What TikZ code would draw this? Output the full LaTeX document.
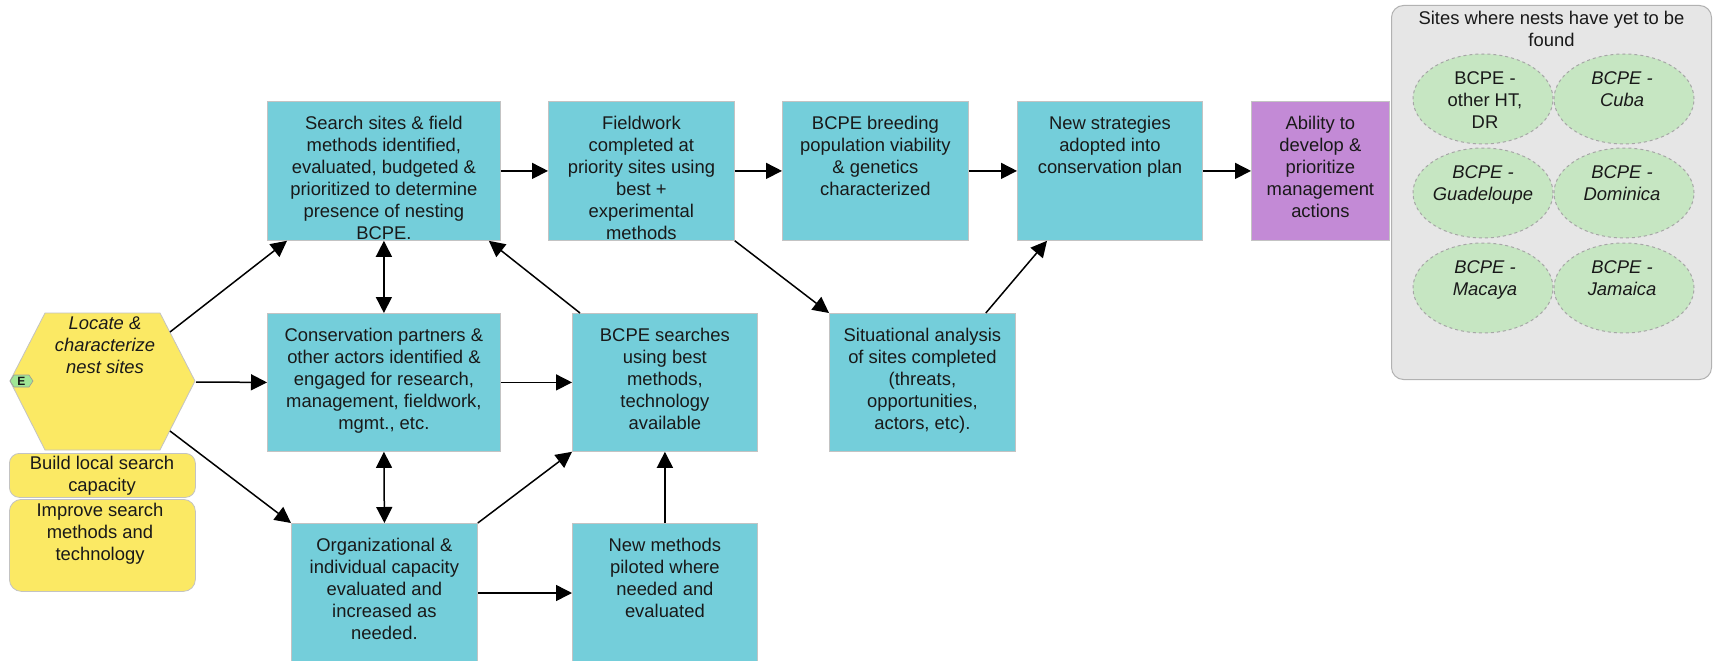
\documentclass[tikz,border=0pt]{standalone}
\usepackage{fontspec}
\setmainfont{Liberation Sans}
\usetikzlibrary{arrows.meta,shapes.geometric}
\definecolor{boxblue}{RGB}{116,206,218}
\definecolor{boxpurple}{RGB}{195,138,214}
\definecolor{hexyellow}{RGB}{251,233,100}
\definecolor{ellgreen}{RGB}{198,230,194}
\definecolor{contgrey}{RGB}{230,230,230}
\definecolor{edgegrey}{RGB}{195,195,195}
\definecolor{markgreen}{RGB}{160,230,150}
\definecolor{inkc}{RGB}{25,25,25}
\newcommand\fs{\fontsize{18.4}{22}\selectfont}
\begin{document}
\begin{tikzpicture}[x=1pt,y=-1pt,
  box/.style={draw=edgegrey, line width=0.8pt, fill=boxblue, anchor=north west, inner sep=0pt},
  pbox/.style={box, fill=boxpurple},
  ybox/.style={draw=edgegrey, line width=0.8pt, fill=hexyellow, anchor=north west, inner sep=0pt},
  txt/.style={font=\fs, align=center, inner sep=0pt, anchor=north, text=inkc},
  itxt/.style={txt, font=\fs\itshape},
  ell/.style={ellipse, draw=black!35, dashed, line width=1pt, fill=ellgreen, minimum width=140pt, minimum height=90pt, inner sep=0pt},
  arr/.style={line width=1.5pt, -{Triangle[length=16pt,width=16pt]}},
  darr/.style={line width=1.5pt, {Triangle[length=16pt,width=16pt]}-{Triangle[length=16pt,width=16pt]}}]
\useasboundingbox (0,0) rectangle (1713,661);
\fill[white] (0,0) rectangle (1713,661);

% grey container
\node[draw=black!30, line width=1pt, fill=contgrey, rounded corners=12pt, anchor=north west, minimum width=320pt, minimum height=374pt, inner sep=0pt] (sites) at (1391,5) {};
\node[txt] (sites-t) at ([yshift=-3.6pt]sites.north) {\strut Sites where nests have yet to be\\found};

% ellipses
\node[ell] (e1) at (1483,99) {};
\node[ell] (e2) at (1624,99) {};
\node[ell] (e3) at (1483,193) {};
\node[ell] (e4) at (1624,193) {};
\node[ell] (e5) at (1483,288) {};
\node[ell] (e6) at (1624,288) {};
\node[txt] (e1-t) at ([xshift=2pt,yshift=30.4pt]e1.center) {\strut BCPE -\\other HT,\\DR};
\node[itxt] (e2-t) at ([xshift=-2pt,yshift=30.4pt]e2.center) {\strut BCPE -\\Cuba};
\node[itxt] (e3-t) at ([yshift=30.4pt]e3.center) {\strut BCPE -\\Guadeloupe};
\node[itxt] (e4-t) at ([xshift=-2pt,yshift=30.4pt]e4.center) {\strut BCPE -\\Dominica};
\node[itxt] (e5-t) at ([xshift=2pt,yshift=30.4pt]e5.center) {\strut BCPE -\\Macaya};
\node[itxt] (e6-t) at ([xshift=-2pt,yshift=30.4pt]e6.center) {\strut BCPE -\\Jamaica};

% hexagon
\draw[draw=edgegrey, line width=0.8pt, fill=hexyellow] (10,381) -- (45,313) -- (160,313) -- (195,381) -- (160,450) -- (45,450) -- cycle;
\coordinate (hexNE) at (170,332);
\coordinate (hexE) at (196,382);
\coordinate (hexSE) at (170,431);
\node[itxt] (hex) at (105,313.6) {\strut Locate \&\\characterize\\nest sites};
% E marker
\draw[draw=black!40, line width=0.6pt, fill=markgreen] (10,381) -- (14,375) -- (29,375) -- (33,381) -- (29,387) -- (14,387) -- cycle;
\node[font=\fontsize{12}{12}\selectfont\bfseries, inner sep=0pt, text=inkc] (emark) at (21.5,381.5) {E};

% yellow rounded boxes
\node[ybox, rounded corners=10pt, minimum width=186pt, minimum height=44pt] (build) at (9,453) {};
\node[txt] (build-t) at (102,453.6) {\strut Build local search\\capacity};
\node[ybox, rounded corners=12pt, minimum width=186pt, minimum height=92pt] (improve) at (9,499) {};
\node[txt] (improve-t) at (100,500.6) {\strut Improve search\\methods and\\technology};

% blue boxes
\node[box, minimum width=233pt, minimum height=139pt] (search) at (267,101) {};
\node[box, minimum width=186pt, minimum height=139pt] (field) at (548,101) {};
\node[box, minimum width=186pt, minimum height=139pt] (breed) at (782,101) {};
\node[box, minimum width=185pt, minimum height=139pt] (strat) at (1017,101) {};
\node[pbox, minimum width=138pt, minimum height=139pt] (ability) at (1251,101) {};
\node[box, minimum width=233pt, minimum height=138pt] (cons) at (267,313) {};
\node[box, minimum width=185pt, minimum height=138pt] (bsearch) at (572,313) {};
\node[box, minimum width=186pt, minimum height=138pt] (situ) at (829,313) {};
\node[box, minimum width=186pt, minimum height=150pt] (org) at (291,523) {};
\node[box, minimum width=185pt, minimum height=150pt] (newm) at (572,523) {};

\node[txt] (search-t) at ([yshift=-13pt]search.north) {\strut Search sites \& field\\methods identified,\\evaluated, budgeted \&\\prioritized to determine\\presence of nesting\\BCPE.};
\node[txt] (field-t) at ([yshift=-13pt]field.north) {\strut Fieldwork\\completed at\\priority sites using\\best +\\experimental\\methods};
\node[txt] (breed-t) at ([yshift=-13pt]breed.north) {\strut BCPE breeding\\population viability\\\& genetics\\characterized};
\node[txt] (strat-t) at ([yshift=-13pt]strat.north) {\strut New strategies\\adopted into\\conservation plan};
\node[txt] (ability-t) at ([yshift=-13pt]ability.north) {\strut Ability to\\develop \&\\prioritize\\management\\actions};
\node[txt] (cons-t) at ([yshift=-13pt]cons.north) {\strut Conservation partners \&\\other actors identified \&\\engaged for research,\\management, fieldwork,\\mgmt., etc.};
\node[txt] (bsearch-t) at ([yshift=-13pt]bsearch.north) {\strut BCPE searches\\using best\\methods,\\technology\\available};
\node[txt] (situ-t) at ([yshift=-13pt]situ.north) {\strut Situational analysis\\of sites completed\\(threats,\\opportunities,\\actors, etc).};
\node[txt] (org-t) at ([yshift=-13pt]org.north) {\strut Organizational \&\\individual capacity\\evaluated and\\increased as\\needed.};
\node[txt] (newm-t) at ([yshift=-13pt]newm.north) {\strut New methods\\piloted where\\needed and\\evaluated};

% connectors
\draw[arr] (hexNE) -- ([xshift=20pt]search.south west);
\draw[arr] (hexE) -- (cons.west);
\draw[arr] (hexSE) -- (org.north west);
\draw[arr] (search.east) -- (field.west);
\draw[arr] (field.east) -- (breed.west);
\draw[arr] (breed.east) -- (strat.west);
\draw[arr] (strat.east) -- (ability.west);
\draw[arr] (field.south east) -- (situ.north west);
\draw[arr] ([xshift=-30pt]situ.north east) -- ([xshift=30pt]strat.south west);
\draw[darr] (search.south) -- (cons.north);
\draw[darr] (cons.south) -- (org.north);
\draw[arr] (cons.east) -- (bsearch.west);
\draw[arr] ([xshift=8pt]bsearch.north west) -- ([xshift=-12pt]search.south east);
\draw[arr] (org.north east) -- (bsearch.south west);
\draw[arr] ([yshift=-70pt]org.north east) -- ([yshift=-70pt]newm.north west);
\draw[arr] (newm.north) -- (bsearch.south);
\end{tikzpicture}
\end{document}
